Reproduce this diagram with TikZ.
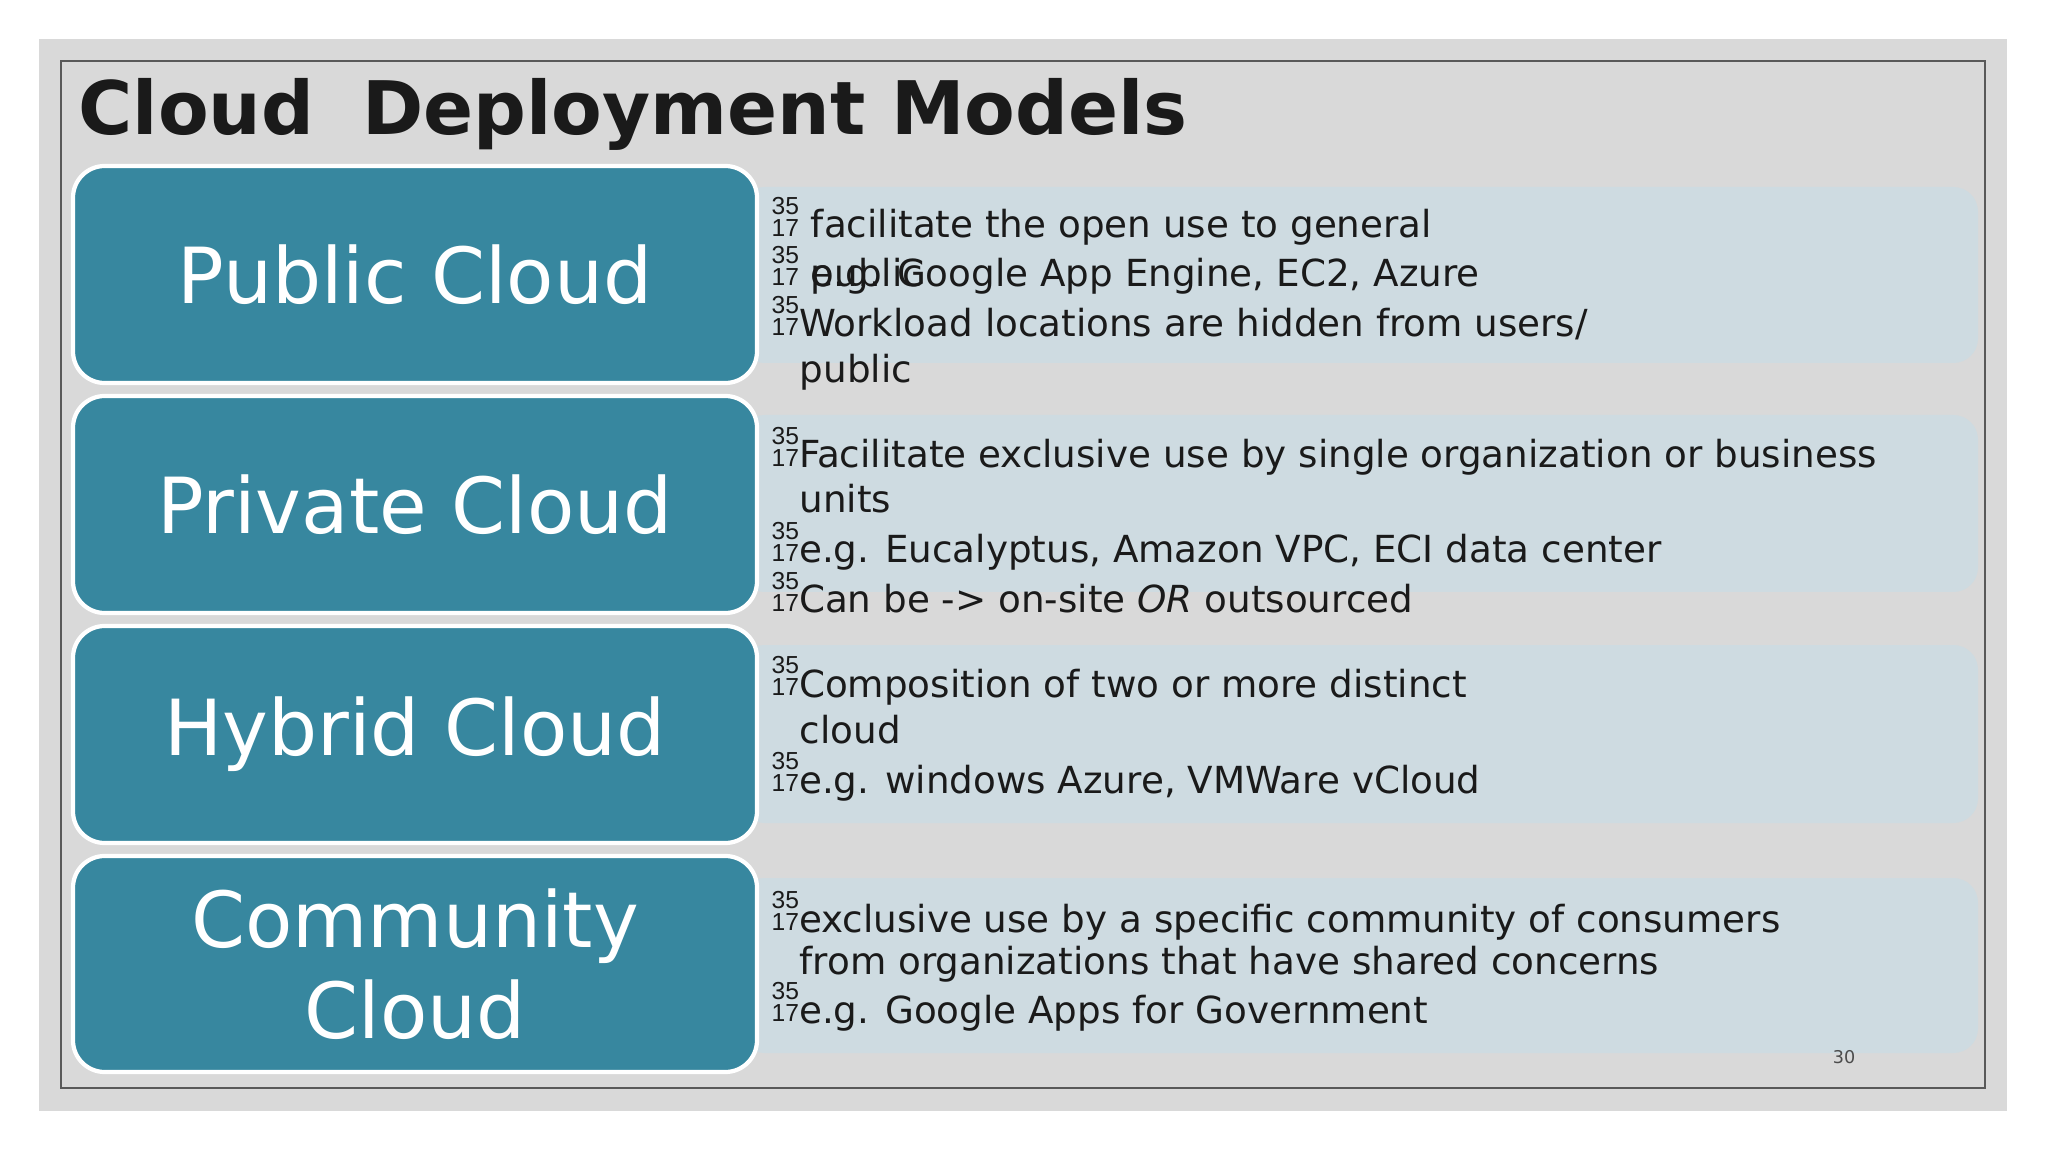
\documentclass[tikz,border=0pt]{standalone}
\usepackage{fontspec}
\setmainfont{DejaVu Sans}
\newfontfamily\numfont{Liberation Sans}
\definecolor{teal}{HTML}{37879F}
\definecolor{pale}{HTML}{CEDBE1}
\definecolor{bgc}{HTML}{D9D9D9}
\definecolor{ink}{HTML}{1A1A1A}
\newcommand{\bul}{\raisebox{0.05ex}{\numfont\fontsize{7}{7}\selectfont\shortstack{35\\[-1.5pt]17}}}
\tikzset{
 lbox/.style={draw=white,line width=1.2pt,fill=teal,rounded corners=9pt},
 rbox/.style={fill=pale,rounded corners=7pt,draw=none},
 lab/.style={text=white,font=\fontsize{22}{26}\selectfont,align=center},
 bl/.style={anchor=base west,inner sep=0,text=ink,font=\fontsize{10.6}{12}\selectfont},
}
\begin{document}
\begin{tikzpicture}[x=0.01cm,y=-0.01cm]
\useasboundingbox (0,0) rectangle (2048,1152);
\fill[white] (0,0) rectangle (2048,1152);
\fill[bgc] (39,39) rectangle (2007,1111);
\draw[gray!70!black,line width=0.6pt] (61,61) rectangle (1985,1088);
\node[anchor=base west,inner sep=0,text=ink,font=\bfseries\fontsize{21}{26}\selectfont] (title) at (78,135) {Cloud\hspace{0.3em} Deployment Models};
% right boxes
\fill[rbox] (740,187) rectangle (1978,363);
\fill[rbox] (740,415) rectangle (1978,592);
\fill[rbox] (740,645) rectangle (1978,823);
\fill[rbox] (740,878) rectangle (1978,1053);
% left boxes
\draw[lbox] (73,166) rectangle (757,383);
\draw[lbox] (73,396) rectangle (757,613);
\draw[lbox] (73,626) rectangle (757,843);
\draw[lbox] (73,856) rectangle (757,1072);
\node[lab] (pub) at (415,275) {Public Cloud};
\node[lab] (pri) at (415,505) {Private Cloud};
\node[lab] (hyb) at (415,734) {Hybrid Cloud};
\node[lab] (com) at (415,964) {Community\\Cloud};
% bullets
\node[bl] (b1) at (771,238) {\bul\ facilitate the open use to general};
\node[bl] (b2) at (771,287) {\bul\ e.g. Google App Engine, EC2, Azure};
\node[bl] (b2b) at (810,287) {public};
\node[bl] (b3) at (771,337) {\bul Workload locations are hidden from users/};
\node[bl] (b3b) at (799,383) {public};
\node[bl] (c1) at (771,468) {\bul Facilitate exclusive use by single organization or business};
\node[bl] (c1b) at (799,513) {units};
\node[bl] (c2) at (771,563) {\bul e.g. Eucalyptus, Amazon VPC, ECI data center};
\node[bl] (c3) at (771,613) {\bul Can be -> on-site \textit{OR} outsourced};
\node[bl] (d1) at (771,697) {\bul Composition of two or more distinct};
\node[bl] (d1b) at (799,743) {cloud};
\node[bl] (d2) at (771,793) {\bul e.g. windows Azure, VMWare vCloud};
\node[bl] (e1) at (771,932) {\bul exclusive use by a specific community of consumers};
\node[bl] (e1b) at (799,974) {from organizations that have shared concerns};
\node[bl] (e2) at (771,1023) {\bul e.g. Google Apps for Government};
\node[anchor=base,inner sep=0,text=gray!60!black,font=\fontsize{5}{6}\selectfont] (pg) at (1844,1063) {30};
\end{tikzpicture}
\end{document}
